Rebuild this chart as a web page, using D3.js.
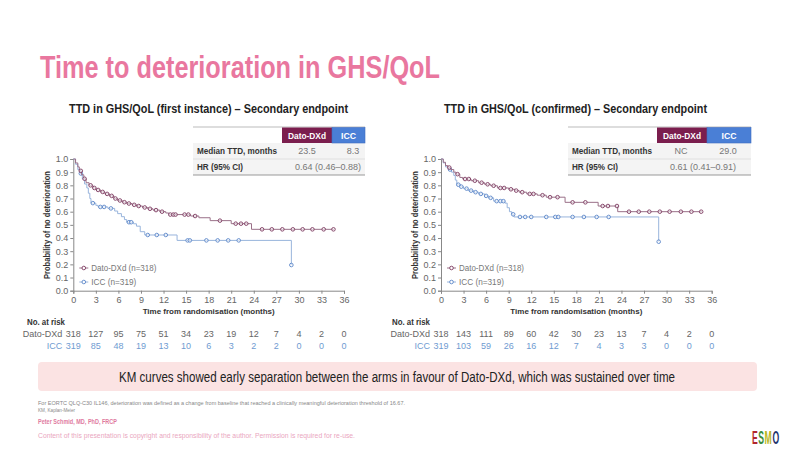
<!DOCTYPE html>
<html><head><meta charset="utf-8">
<script src="https://cdn.jsdelivr.net/npm/d3@7"></script>
<style>body{margin:0;background:#fff}svg{display:block}</style>
</head><body><svg id="c" width="800" height="451"></svg>
<script>
// ---------- data ----------
const xTicks = [0,3,6,9,12,15,18,21,24,27,30,33,36];
const yTicks = [0,0.1,0.2,0.3,0.4,0.5,0.6,0.7,0.8,0.9,1.0];
const riskTimes = [0,3,6,9,12,15,18,21,24,27,30,33,36];
const riskDatoL = [318,127,95,75,51,34,23,19,12,7,4,2,0];
const riskIccL  = [319,85,48,19,13,10,6,3,2,2,0,0,0];
const riskDatoR = [318,143,111,89,60,42,30,23,13,7,4,2,0];
const riskIccR  = [319,103,59,26,16,12,7,4,3,3,0,0,0];
const armNames = ["Dato-DXd","ICC"];
const legendLabels = ["Dato-DXd (n=318)","ICC (n=319)"];
const panelTitles = ["TTD in GHS/QoL (first instance) – Secondary endpoint","TTD in GHS/QoL (confirmed) – Secondary endpoint"];
const tableRows = ["Median TTD, months","HR (95% CI)"];
const medianL = ["23.5","8.3"], hrL = "0.64 (0.46–0.88)";
const medianR = ["NC","29.0"], hrR = "0.61 (0.41–0.91)";

// KM steps: [time, survival after event]
const stepsDatoL = [[0,1],[0.3,0.97],[0.6,0.94],[0.8,0.91],[1.1,0.88],[1.4,0.85],[1.7,0.82],[2.1,0.8],[2.6,0.78],[3.0,0.765],[3.6,0.75],[4.2,0.735],[4.8,0.72],[5.4,0.7],[5.9,0.685],[6.5,0.672],[7.1,0.662],[7.8,0.652],[8.4,0.643],[9.2,0.632],[9.9,0.622],[10.6,0.612],[11.5,0.6],[12.3,0.59],[12.7,0.578],[15.6,0.567],[16.7,0.554],[18.2,0.532],[21.0,0.509],[23.7,0.466],[34.7,0.466]];
const censDatoL = [1.0,1.5,2.3,2.8,3.3,3.9,4.5,5.1,5.6,6.2,6.8,7.4,8.1,8.7,9.5,10.2,11.0,11.8,12.9,13.3,13.6,14.8,15.3,16.2,19.5,21.6,22.3,23.0,25.1,26.4,27.8,29.2,30.5,31.8,33.3,34.6];
const stepsIccL = [[0,1],[0.3,0.96],[0.6,0.92],[0.9,0.89],[1.2,0.85],[1.5,0.81],[1.8,0.78],[2.0,0.74],[2.2,0.7],[2.35,0.665],[3.0,0.648],[3.3,0.636],[4.6,0.625],[5.5,0.605],[5.9,0.585],[6.4,0.562],[6.8,0.54],[7.1,0.52],[8.0,0.508],[8.4,0.49],[8.9,0.448],[9.5,0.423],[13.8,0.382],[29.0,0.195]];
const censIccL = [1.0,2.6,3.6,4.1,5.0,7.4,7.7,9.9,11.1,12.3,15.2,15.5,17.7,19.2,20.6,22.0,29.0];
const stepsDatoR = [[0,1],[0.3,0.975],[0.6,0.95],[0.9,0.935],[1.3,0.92],[1.7,0.9],[2.0,0.885],[2.5,0.86],[2.9,0.848],[4.0,0.835],[5.0,0.82],[5.8,0.808],[6.6,0.797],[7.5,0.78],[9.0,0.77],[9.8,0.76],[10.4,0.748],[11.4,0.735],[12.8,0.725],[14.0,0.71],[16.5,0.671],[20.9,0.643],[23.5,0.6],[34.7,0.6]];
const censDatoR = [1.1,2.2,3.2,3.7,4.5,5.4,6.2,7.0,7.9,8.4,9.3,10.0,10.8,11.8,12.3,13.5,14.5,15.5,17.5,19.2,21.5,22.2,23.4,25.0,26.3,27.7,29.1,30.4,31.9,33.3,34.6];
const stepsIccR = [[0,1],[0.3,0.97],[0.6,0.94],[1.0,0.92],[1.4,0.9],[1.7,0.875],[1.9,0.84],[2.1,0.805],[2.6,0.79],[3.0,0.775],[3.6,0.76],[4.3,0.748],[5.0,0.735],[5.8,0.72],[6.3,0.705],[7.0,0.68],[8.5,0.665],[8.8,0.63],[9.1,0.6],[9.4,0.58],[9.7,0.56],[28.95,0.372]];
const censIccR = [1.2,2.3,2.7,3.4,4.0,4.6,5.3,6.0,6.6,7.4,7.9,8.3,9.6,10.5,11.2,12.0,14.0,15.2,15.6,17.5,19.0,20.7,22.3,28.95];

// ---------- drawing ----------
const F = "'Liberation Sans',Arial,sans-serif";
const FW = F;
const C_DATO = "#7b1e4e", C_ICC = "#4a7fd6";
const L_DATO = "#9a7088", L_ICC = "#98b4dc";
const M_DATO = "#7d3a60", M_ICC = "#5a86c8";
const svg = d3.select("#c");

svg.append("text").attr("x",40).attr("y",78).attr("font-family",FW).attr("font-weight","bold")
  .attr("font-size",31).attr("fill","#e9779f").attr("textLength",400).attr("lengthAdjust","spacingAndGlyphs")
  .text("Time to deterioration in GHS/QoL");

function survAt(steps,t){let s=steps[0][1];for(const p of steps){if(p[0]<=t)s=p[1];}return s;}

function panel(cfg){
  const x = d3.scaleLinear().domain([0,36]).range([cfg.x0,cfg.x0+270.7]);
  const y = d3.scaleLinear().domain([0,1]).range([290.7,159]);
  const g = svg.append("g");
  g.append("text").attr("x",cfg.tx).attr("y",113).attr("font-family",FW).attr("font-weight","bold")
    .attr("font-size",12.5).attr("fill","#222").attr("textLength",cfg.tw).attr("lengthAdjust","spacingAndGlyphs").text(cfg.title);
  const ya = g.append("g").attr("transform",`translate(${cfg.x0},0)`)
    .call(d3.axisLeft(y).tickValues(yTicks).tickFormat(d3.format(".1f")).tickSize(3).tickPadding(2));
  const xa = g.append("g").attr("transform",`translate(0,290.7)`)
    .call(d3.axisBottom(x).tickValues(xTicks).tickSize(3).tickPadding(3));
  [ya,xa].forEach(a=>{a.selectAll("path,line").attr("stroke","#888");
    a.selectAll("text").attr("font-family",FW).attr("font-size",9).attr("fill","#666");});
  g.append("text").attr("transform",`translate(${cfg.x0-23},225) rotate(-90)`).attr("text-anchor","middle")
    .attr("font-family",FW).attr("font-weight","bold").attr("font-size",9).attr("fill","#333")
    .attr("textLength",108).attr("lengthAdjust","spacingAndGlyphs").text("Probability of no deterioration");
  g.append("text").attr("x",x(18)).attr("y",314).attr("text-anchor","middle").attr("font-family",FW)
    .attr("font-weight","bold").attr("font-size",8).attr("fill","#333").attr("textLength",132)
    .attr("lengthAdjust","spacingAndGlyphs").text("Time from randomisation (months)");
  const line = d3.line().x(d=>x(d[0])).y(d=>y(d[1])).curve(d3.curveStepAfter);
  [[cfg.sI,cfg.cI,L_ICC,M_ICC],[cfg.sD,cfg.cD,L_DATO,M_DATO]].forEach(([s,c,lc,mc])=>{
    g.append("path").attr("d",line(s)).attr("fill","none").attr("stroke",lc).attr("stroke-width",1);
    g.selectAll(null).data(c).enter().append("circle").attr("cx",d=>x(d)).attr("cy",d=>y(survAt(s,d)))
      .attr("r",1.8).attr("fill","#fff").attr("fill-opacity",0.6).attr("stroke",mc).attr("stroke-width",0.9);
  });
  [[0,L_DATO,M_DATO],[1,L_ICC,M_ICC]].forEach(([i,lc,mc])=>{
    const ly = 268+i*14;
    g.append("line").attr("x1",cfg.x0+6).attr("x2",cfg.x0+15).attr("y1",ly).attr("y2",ly).attr("stroke",lc);
    g.append("circle").attr("cx",cfg.x0+10.5).attr("cy",ly).attr("r",1.8).attr("fill","#fff").attr("stroke",mc).attr("stroke-width",0.9);
    g.append("text").attr("x",cfg.x0+18).attr("y",ly+3).attr("font-family",FW).attr("font-size",8.5).attr("fill","#777")
      .attr("textLength",i?45:65).attr("lengthAdjust","spacingAndGlyphs").text(legendLabels[i]);
  });
  const tL = cfg.tabL, tR = cfg.tabR, c1 = cfg.c1, c2 = cfg.c2;
  g.append("rect").attr("x",tL).attr("y",143).attr("width",tR-tL).attr("height",32).attr("fill","#f4f4f4");
  g.append("line").attr("x1",tL).attr("x2",tR).attr("y1",127).attr("y2",127).attr("stroke","#bbb").attr("stroke-width",1);
  g.append("rect").attr("x",c1).attr("y",127.5).attr("width",c2-c1).attr("height",15.5).attr("fill",C_DATO);
  g.append("rect").attr("x",c2).attr("y",127.5).attr("width",tR-c2).attr("height",15.5).attr("fill",C_ICC).attr("stroke","#3d6cc0").attr("stroke-width",0.6);
  g.append("text").attr("x",(c1+c2)/2).attr("y",138.5).attr("text-anchor","middle").attr("font-family",FW).attr("font-weight","bold").attr("font-size",9.5).attr("fill","#fff")
    .attr("textLength",38).attr("lengthAdjust","spacingAndGlyphs").text(armNames[0]);
  g.append("text").attr("x",(c2+tR)/2).attr("y",138.5).attr("text-anchor","middle").attr("font-family",FW).attr("font-weight","bold").attr("font-size",9.5).attr("fill","#fff")
    .attr("textLength",15).attr("lengthAdjust","spacingAndGlyphs").text(armNames[1]);
  g.append("line").attr("x1",tL).attr("x2",tR).attr("y1",159).attr("y2",159).attr("stroke","#e0e0e0");
  g.append("line").attr("x1",tL).attr("x2",tR).attr("y1",175).attr("y2",175).attr("stroke","#999").attr("stroke-width",1);
  tableRows.forEach((r,i)=>{
    g.append("text").attr("x",tL+4).attr("y",154+i*16).attr("font-family",FW).attr("font-weight","bold").attr("font-size",9.5).attr("fill","#333")
      .attr("textLength",i?46:80).attr("lengthAdjust","spacingAndGlyphs").text(r);
  });
  g.append("text").attr("x",cfg.m1).attr("y",154).attr("text-anchor","middle").attr("font-family",F).attr("font-size",9).attr("fill","#777").text(cfg.med[0]);
  g.append("text").attr("x",cfg.m2).attr("y",154).attr("text-anchor","middle").attr("font-family",F).attr("font-size",9).attr("fill","#777").text(cfg.med[1]);
  g.append("text").attr("x",cfg.hx).attr("y",170).attr("text-anchor","middle").attr("font-family",F).attr("font-size",9).attr("fill","#777").text(cfg.hr);
  g.append("text").attr("x",cfg.nx).attr("y",325).attr("font-family",F).attr("font-weight","bold").attr("font-size",8.5).attr("fill","#333")
    .attr("textLength",38).attr("lengthAdjust","spacingAndGlyphs").text("No. at risk");
  [[cfg.rD,"#666",armNames[0]],[cfg.rI,"#6f9bd1",armNames[1]]].forEach(([arr,col,nm],i)=>{
    const ry = 337+i*12;
    g.append("text").attr("x",cfg.x0-11).attr("y",ry).attr("text-anchor","end").attr("font-family",F).attr("font-size",9).attr("fill",col).text(nm);
    g.selectAll(null).data(arr).enter().append("text").attr("x",(d,j)=>x(riskTimes[j])).attr("y",ry)
      .attr("text-anchor","middle").attr("font-family",F).attr("font-size",9).attr("fill",col).text(d=>d);
  });
}

panel({x0:73.3,tx:69,tw:279,title:panelTitles[0],sD:stepsDatoL,cD:censDatoL,sI:stepsIccL,cI:censIccL,
  tabL:193,tabR:365,c1:282,c2:332,m1:307,m2:353,hx:328,med:medianL,hr:hrL,nx:27,rD:riskDatoL,rI:riskIccL});
panel({x0:441,tx:444,tw:263,title:panelTitles[1],sD:stepsDatoR,cD:censDatoR,sI:stepsIccR,cI:censIccR,
  tabL:568,tabR:751,c1:657,c2:707,m1:681,m2:728,hx:703,med:medianR,hr:hrR,nx:392,rD:riskDatoR,rI:riskIccR});

svg.append("rect").attr("x",38).attr("y",362).attr("width",719).attr("height",29).attr("rx",4).attr("fill","#fbe3e3");
svg.append("text").attr("transform","translate(397,382) scale(1,1.28)").attr("text-anchor","middle").attr("font-family",F).attr("font-size",11.3)
  .attr("fill","#222").attr("textLength",556).attr("lengthAdjust","spacingAndGlyphs")
  .text("KM curves showed early separation between the arms in favour of Dato-DXd, which was sustained over time");

svg.append("text").attr("x",38).attr("y",405).attr("font-family",F).attr("font-size",5.5).attr("fill","#888")
  .attr("textLength",367).attr("lengthAdjust","spacingAndGlyphs")
  .text("For EORTC QLQ-C30 IL146, deterioration was defined as a change from baseline that reached a clinically meaningful deterioration threshold of 16.67.");
svg.append("text").attr("x",38).attr("y",412).attr("font-family",F).attr("font-size",5.5).attr("fill","#888")
  .attr("textLength",37).attr("lengthAdjust","spacingAndGlyphs").text("KM, Kaplan-Meier");
svg.append("text").attr("x",38).attr("y",424).attr("font-family",F).attr("font-weight","bold").attr("font-size",7.5).attr("fill","#e07aa0")
  .attr("textLength",79).attr("lengthAdjust","spacingAndGlyphs").text("Peter Schmid, MD, PhD, FRCP");
svg.append("text").attr("x",38).attr("y",438).attr("font-family",F).attr("font-size",6.5).attr("fill","#eaa6c0")
  .attr("textLength",317).attr("lengthAdjust","spacingAndGlyphs")
  .text("Content of this presentation is copyright and responsibility of the author. Permission is required for re-use.");

const esmoLetters = [["E","#b3262e"],["S","#3b8f3e"],["M","#b8b520"],["O","#22346e"]];
const esmoX = [752,758.3,764.6,772.6];
esmoLetters.forEach(([t,c],i)=>svg.append("text").attr("transform",`translate(${esmoX[i]},444) scale(0.72,1.6)`)
  .attr("font-family",F).attr("font-weight","bold").attr("font-size",12).attr("fill",c).text(t));
</script></body></html>
